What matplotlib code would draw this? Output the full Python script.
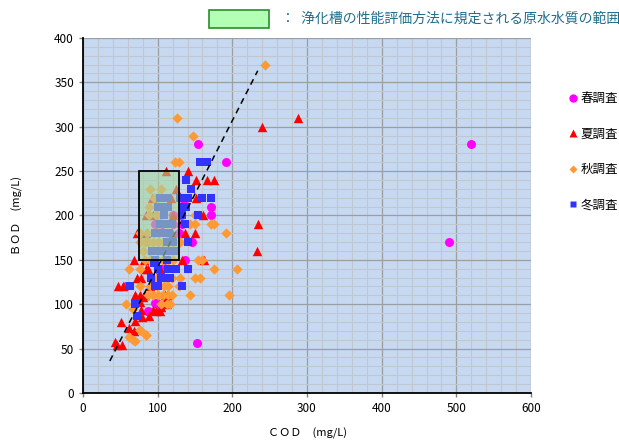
import matplotlib
matplotlib.use("Agg")
from matplotlib import pyplot as plt
from matplotlib.patches import Rectangle
from matplotlib.lines import Line2D
import numpy as np

plt.rcParams['font.family'] = ['Noto Sans CJK JP', 'DejaVu Sans']

# Spring survey (COD, BOD in mg/L)
spring_cod = [520, 490, 154, 191, 172, 172, 153, 146, 100, 88, 58, 96, 121, 132,
              120, 131, 132, 138, 128, 137, 103, 108, 96, 99, 87, 106, 134]
spring_bod = [280, 170, 280, 260, 210, 200, 56, 170, 100, 91, 121, 190, 190, 190,
              200, 200, 220, 220, 180, 150, 131, 141, 101, 101, 92, 190, 220]

# Summer survey
summer_cod = [288, 240, 234, 233, 111, 141, 152, 176, 125, 93, 118, 151, 161, 85,
              121, 94, 150, 72, 137, 69, 82, 162, 132, 87, 103, 73, 78, 47, 54, 90,
              70, 76, 83, 110, 76, 81, 113, 78, 94, 103, 112, 51, 61, 68, 46, 52, 43,
              70, 79, 89, 98, 105, 112, 166, 85, 119, 84]
summer_bod = [310, 300, 190, 160, 250, 250, 240, 240, 230, 220, 220, 220, 200, 200,
              200, 200, 180, 180, 180, 150, 150, 150, 150, 140, 140, 130, 130, 120, 120, 120,
              110, 110, 110, 110, 102, 108, 108, 93, 93, 92, 100, 80, 73, 70, 54, 54, 57,
              81, 86, 87, 92, 97, 110, 240, 180, 180, 140]

# Autumn survey
autumn_cod = [244, 126, 148, 123, 128, 90, 176, 191, 206, 196, 175, 157, 150, 154,
              159, 143, 130, 128, 61, 76, 77, 58, 67, 61, 67, 70, 77, 85, 99, 112,
              119, 90, 99, 108, 114, 87, 94, 101, 107, 114, 119, 105, 112, 116, 83,
              90, 99, 107, 114, 121, 76, 83, 87, 94, 101, 107, 114, 121, 130, 77, 86,
              95, 102, 113, 143, 150, 88, 98, 104, 150, 88, 98, 172, 80, 90, 95, 105,
              76, 84]
autumn_bod = [370, 310, 290, 260, 260, 230, 190, 180, 140, 110, 140, 130, 130, 150,
              150, 110, 130, 120, 140, 140, 120, 100, 95, 63, 60, 58, 71, 65, 130, 130,
              130, 120, 120, 120, 120, 110, 110, 110, 110, 110, 110, 100, 100, 100, 150,
              150, 150, 150, 150, 150, 170, 170, 170, 170, 170, 170, 170, 170, 170, 180, 180,
              180, 180, 180, 190, 190, 200, 200, 200, 200, 210, 210, 190, 160, 160, 220, 230,
              71, 65]

# Winter survey
winter_cod = [157, 162, 166, 138, 145, 103, 112, 130, 141, 160, 172, 101, 107, 114,
              132, 138, 108, 133, 154, 103, 112, 119, 137, 97, 104, 115, 112, 121, 140,
              92, 103, 113, 123, 97, 112, 95, 101, 114, 125, 140, 91, 105, 112, 117,
              63, 97, 101, 133, 70, 72]
winter_bod = [260, 260, 260, 240, 230, 220, 220, 220, 220, 220, 220, 210, 210, 210,
              210, 210, 200, 200, 200, 190, 190, 190, 190, 180, 180, 180, 170, 170, 170,
              160, 160, 160, 160, 150, 150, 146, 140, 140, 140, 140, 130, 130, 130, 130,
              120, 120, 120, 120, 100, 87]

# dashed guide line end points
trend_cod = [36, 234]
trend_bod = [36, 363]

# range of raw water quality (COD, BOD)
range_cod = [75, 128]
range_bod = [150, 250]

fig = plt.figure(figsize=(6.19, 4.41), dpi=100)
ax = fig.add_axes([0.134, 0.109, 0.724, 0.805])
ax.set_facecolor('#c6d9f1')

ax.scatter(spring_cod, spring_bod, s=42, marker='o', color='#ff00ff', linewidths=0, zorder=3)
ax.scatter(summer_cod, summer_bod, s=46, marker='^', color='#ff0000', linewidths=0, zorder=3)
ax.scatter(autumn_cod, autumn_bod, s=28, marker='D', color='#ff9933', linewidths=0, zorder=3)
ax.scatter(winter_cod, winter_bod, s=34, marker='s', color='#3333ff', linewidths=0, zorder=3)

ax.plot(trend_cod, trend_bod, color='black', ls=(0, (4, 3)), lw=1.1, zorder=4)

ax.add_patch(Rectangle((range_cod[0], range_bod[0]), range_cod[1] - range_cod[0],
                       range_bod[1] - range_bod[0], facecolor='#a6d69e', alpha=0.6,
                       edgecolor='none', zorder=5))
ax.add_patch(Rectangle((range_cod[0], range_bod[0]), range_cod[1] - range_cod[0],
                       range_bod[1] - range_bod[0], facecolor='none',
                       edgecolor='black', lw=1.3, zorder=6))

ax.set_xlim(0, 600)
ax.set_ylim(0, 400)
ax.set_xticks(np.arange(0, 601, 100))
ax.set_yticks(np.arange(0, 401, 50))
ax.set_xticks(np.arange(0, 601, 20), minor=True)
ax.set_yticks(np.arange(0, 401, 10), minor=True)
ax.grid(which='minor', color='#c0c7d1', lw=0.8, zorder=0)
ax.grid(which='major', color='#9c9ea4', lw=0.9, zorder=0)
ax.set_axisbelow(True)
ax.tick_params(which='minor', length=0)
ax.tick_params(which='major', length=3, width=1, color='#808080', labelsize=8.5,
               direction='out')
for s in ['top', 'right']:
    ax.spines[s].set_visible(False)
for s in ['left', 'bottom']:
    ax.spines[s].set_linewidth(1.3)

ax.set_xlabel('ＣＯＤ　(mg/L)', fontsize=8, labelpad=9)
ax.set_ylabel('ＢＯＤ　(mg/L)', fontsize=8, labelpad=22)

# right legend
handles = [
    Line2D([], [], ls='none', marker='o', color='#ff00ff', markersize=6, mec='none'),
    Line2D([], [], ls='none', marker='^', color='#ff0000', markersize=6, mec='none'),
    Line2D([], [], ls='none', marker='D', color='#ff9933', markersize=4.5, mec='none'),
    Line2D([], [], ls='none', marker='s', color='#3333ff', markersize=4.5, mec='none'),
]
fig.legend(handles, ['春調査', '夏調査', '秋調査', '冬調査'], loc='upper left',
           bbox_to_anchor=(0.91, 0.805), frameon=False, fontsize=9,
           labelspacing=1.8, handlelength=0.6, handletextpad=0.3, borderpad=0)

# top legend
fig.patches.append(Rectangle((209 / 619, 1 - 28 / 441), 60 / 619, 18 / 441,
                             transform=fig.transFigure, facecolor='#b3ffb3',
                             edgecolor='#2e8b2e', lw=1.2))
fig.text(281 / 619, 1 - 19 / 441, '：  浄化槽の性能評価方法に規定される原水水質の範囲',
         fontsize=10, color='#1f6e8c', va='center', ha='left')

fig.savefig('out.png', dpi=100)
